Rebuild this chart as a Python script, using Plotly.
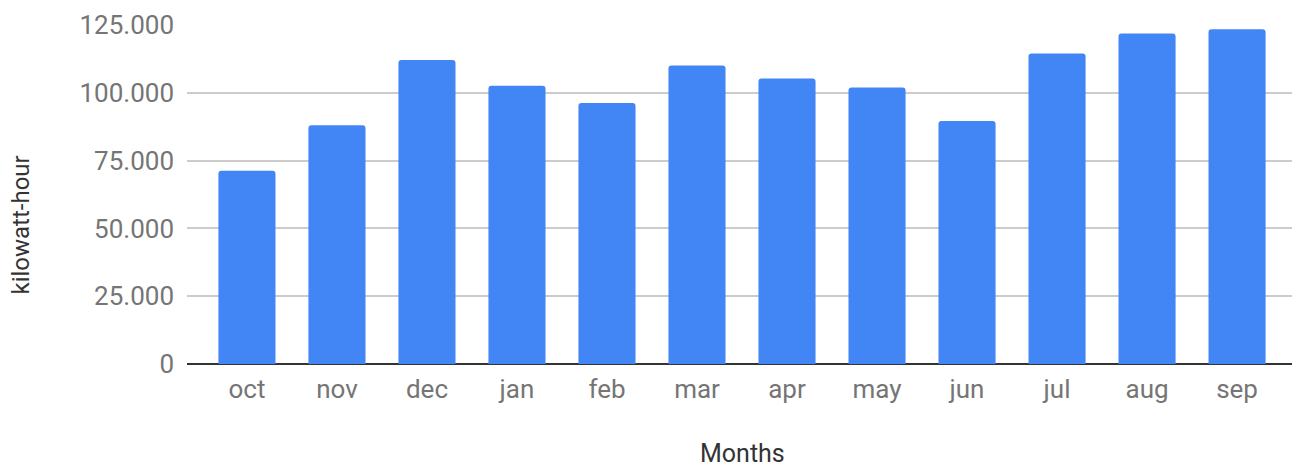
import plotly.graph_objects as go

months = ["oct", "nov", "dec", "jan", "feb", "mar", "apr", "may", "jun", "jul", "aug", "sep"]
kwh = [71300, 88000, 112100, 102600, 96200, 110100, 105300, 102000, 89600, 114500, 121900, 123400]
y_ticks = [0, 25000, 50000, 75000, 100000, 125000]

fig = go.Figure(
    go.Bar(
        x=months,
        y=kwh,
        marker=dict(color="#4285F4", cornerradius=3, line=dict(width=0)),
        hoverinfo="x+y",
    )
)

# page body has an 8px default margin, so the figure is sized to fit inside the window
fig.update_layout(
    width=1292,
    height=459,
    margin=dict(l=179, r=3, t=17, b=103, autoexpand=False),
    plot_bgcolor="white",
    paper_bgcolor="white",
    font=dict(family="Roboto", size=26, color="#757575"),
    separators=",.",
    bargap=0.366,
    showlegend=False,
    xaxis=dict(
        range=[-0.666, 11.666],
        automargin=False,
        showgrid=False,
        showline=False,
        ticks="",
        ticklabelstandoff=7,
        tickfont=dict(size=26, color="#757575"),
    ),
    yaxis=dict(
        range=[0, 125000],
        automargin=False,
        tickvals=y_ticks,
        tickformat=",d",
        showgrid=True,
        gridcolor="#cccccc",
        gridwidth=1.5,
        zeroline=True,
        zerolinecolor="#333333",
        zerolinewidth=2,
        showline=False,
        ticks="",
        ticklabelstandoff=12,
        tickfont=dict(size=26, color="#757575"),
    ),
    annotations=[
        dict(
            text="Months", xref="paper", yref="paper", x=0.5, y=0,
            xanchor="center", yanchor="middle", yshift=-89, showarrow=False,
            font=dict(family="Roboto", size=25, color="#333333"),
        ),
        dict(
            text="kilowatt-hour", xref="paper", yref="paper", x=0, y=0.5,
            xanchor="center", yanchor="middle", xshift=-167, yshift=-31,
            textangle=-90, showarrow=False,
            font=dict(family="Roboto", size=24, color="#333333"),
        ),
    ],
)

fig.write_html("out.html")
